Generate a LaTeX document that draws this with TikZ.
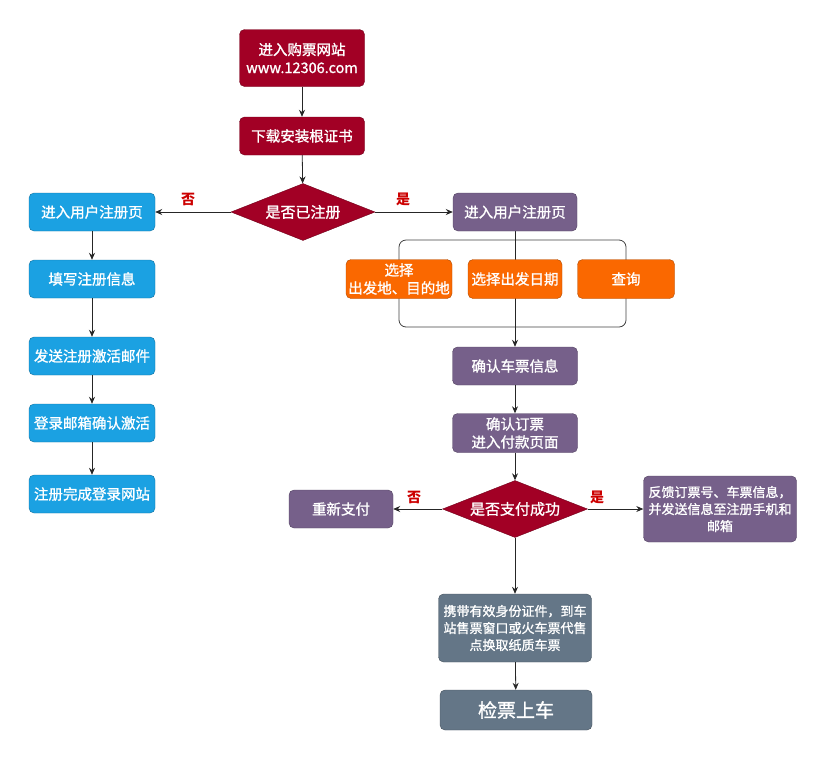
\documentclass[tikz,border=0pt]{standalone}
\usepackage{fontspec}
\setmainfont{Noto Sans CJK SC}
\newfontfamily\boxfont{Noto Sans CJK SC}[FakeBold=1.2]
\usetikzlibrary{shapes.geometric,arrows.meta,backgrounds}
\definecolor{darkred}{HTML}{A20025}
\definecolor{skyblue}{HTML}{1BA1E2}
\definecolor{mauve}{HTML}{76608A}
\definecolor{amber}{HTML}{FA6800}
\definecolor{slate}{HTML}{647687}
\definecolor{yesno}{HTML}{CC0000}
\tikzset{
  box/.style={rectangle, rounded corners=5pt, draw=#1!70!black, fill=#1, text=white,
    minimum height=38pt, align=center, inner sep=2pt, font=\boxfont\fontsize{14.5}{18}\selectfont},
  smalltext/.style={font=\boxfont\fontsize{13}{17}\selectfont},
  decision/.style={diamond, aspect=2.5, draw=darkred!70!black, fill=darkred, text=white,
    minimum width=144pt, minimum height=57pt, inner sep=0pt, font=\boxfont\fontsize{15}{18}\selectfont},
  flow/.style={-{Stealth[length=7pt,width=6pt]}, line width=0.8pt, black!85},
  answer/.style={text=yesno, font=\bfseries\fontsize{14}{14}\selectfont}
}
\begin{document}
\begin{tikzpicture}[x=1pt,y=-1pt]
      \useasboundingbox (0,0) rectangle (826,761);
      % top of the chart
      \node[box=darkred, minimum width=125pt, minimum height=57pt] (site) at (302,58) {进入购票网站\\www.12306.com};
      \node[box=darkred, minimum width=125pt] (cert) at (302,136) {下载安装根证书};
      \node[decision] (registered) at (303,212) {是否已注册};
      \node[answer] (noA) at (188,199) {否};
      \node[answer] (yesA) at (403,199) {是};
      % left column
      \node[box=skyblue, minimum width=126pt] (signup) at (92,212) {进入用户注册页};
      \node[box=skyblue, minimum width=126pt] (fillin) at (92,279) {填写注册信息};
      \node[box=skyblue, minimum width=126pt] (mail) at (92,356) {发送注册激活邮件};
      \node[box=skyblue, minimum width=126pt] (activate) at (92,423) {登录邮箱确认激活};
      \node[box=skyblue, minimum width=126pt] (finish) at (92,494) {注册完成登录网站};
      % right column
      \node[box=mauve, minimum width=124pt] (userpage) at (515,212) {进入用户注册页};
      \node[box=amber, minimum width=106pt, minimum height=39pt] (places) at (399,279) {选择\\出发地、目的地};
      \node[box=amber, minimum width=94pt, minimum height=39pt] (dates) at (515,279) {选择出发日期};
      \node[box=amber, minimum width=97pt, minimum height=39pt] (query) at (626,279) {查询};
      \node[box=mauve, minimum width=125pt] (check) at (515,366) {确认车票信息};
      \node[box=mauve, minimum width=125pt, minimum height=39pt] (order) at (515,433) {确认订票\\进入付款页面};
      \node[decision, minimum width=145pt] (paid) at (515,509) {是否支付成功};
      \node[answer] (noB) at (414,497) {否};
      \node[answer] (yesB) at (597,497) {是};
      \node[box=mauve, minimum width=104pt] (repay) at (341,509) {重新支付};
      \node[box=mauve, smalltext, minimum width=153pt, minimum height=66pt] (notify) at (720,509) {反馈订票号、车票信息，\\并发送信息至注册手机和\\邮箱};
      \node[box=slate, smalltext, minimum width=153pt, minimum height=68pt] (collect) at (515,628) {携带有效身份证件，到车\\站售票窗口或火车票代售\\点换取纸质车票};
      \node[box=slate, minimum width=152pt, minimum height=40pt, font=\boxfont\fontsize{19}{22}\selectfont] (board) at (516,710) {检票上车};
      % bracket behind the search boxes
      \begin{scope}[on background layer]
        \draw[rounded corners=7pt, line width=0.8pt, black!75] (399,240) rectangle (626,327);
        \draw[flow] (userpage) -- (check);
      \end{scope}
      % connectors
      \draw[flow] (site) -- (cert);
      \draw[flow] (cert) -- (registered);
      \draw[flow] (registered.west) -- (signup.east);
      \draw[flow] (registered.east) -- (userpage.west);
      \draw[flow] (signup) -- (fillin);
      \draw[flow] (fillin) -- (mail);
      \draw[flow] (mail) -- (activate);
      \draw[flow] (activate) -- (finish);
      \draw[flow] (check) -- (order);
      \draw[flow] (order) -- (paid);
      \draw[flow] (paid.west) -- (repay.east);
      \draw[flow] (paid.east) -- (notify.west);
      \draw[flow] (paid) -- (collect);
      \draw[flow] (collect) -- (board);
\end{tikzpicture}
\end{document}
